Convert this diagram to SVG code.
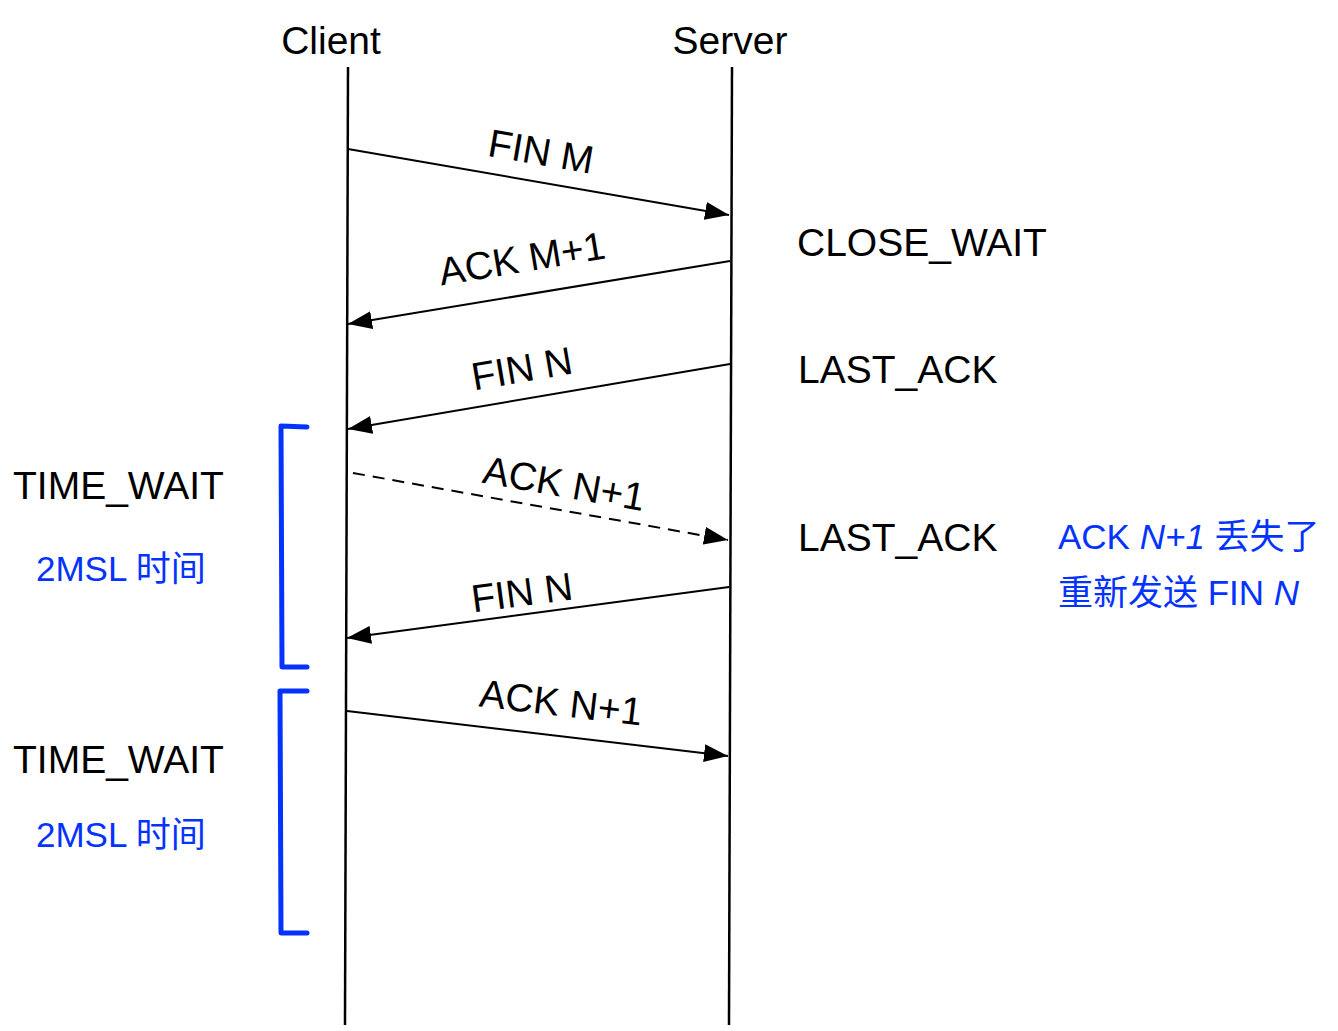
<svg xmlns="http://www.w3.org/2000/svg" width="1338" height="1031" viewBox="0 0 1338 1031">
<defs>
<marker id="ah" viewBox="0 0 24 18" refX="24" refY="9" markerWidth="24" markerHeight="18" markerUnits="userSpaceOnUse" orient="auto">
<path d="M0,0 L24,9 L0,18 Z" fill="#000"/>
</marker>
</defs>
<style>
.t{font-family:"Liberation Sans","Noto Sans CJK SC",Arial,sans-serif;font-size:39px;fill:#000}
.b{font-family:"Liberation Sans","Noto Sans CJK SC",Arial,sans-serif;font-size:35px;fill:#0433ff}
.life{stroke:#000;stroke-width:2.5;fill:none}
.msg{stroke:#000;stroke-width:2;fill:none;marker-end:url(#ah)}
.dash{stroke-dasharray:12,8}
.br{stroke:#0433ff;stroke-width:5;fill:none;stroke-linecap:round;stroke-linejoin:round}
</style>
<rect width="1338" height="1031" fill="#fff"/>
<g id="client">
<text class="t" x="331" y="54" text-anchor="middle">Client</text>
<line class="life" x1="348" y1="67" x2="345" y2="1025"/>
</g>
<g id="server">
<text class="t" x="730" y="54" text-anchor="middle">Server</text>
<line class="life" x1="732" y1="67" x2="729" y2="1025"/>
</g>
<g id="states">
<text class="t" x="797" y="256">CLOSE_WAIT</text>
<text class="t" x="798" y="383">LAST_ACK</text>
<text class="t" x="798" y="551">LAST_ACK</text>
<text class="t" x="13" y="499">TIME_WAIT</text>
<text class="t" x="13" y="773">TIME_WAIT</text>
<text class="b" x="36" y="581">2MSL 时间</text>
<text class="b" x="36" y="847">2MSL 时间</text>
<text class="b" x="1058" y="549">ACK <tspan font-style="italic">N+1</tspan> 丢失了</text>
<text class="b" x="1058" y="605">重新发送 FIN <tspan font-style="italic">N</tspan></text>
</g>
<g id="brackets">
<path class="br" d="M307,427 L281,426 L282,667 L307,667"/>
<path class="br" d="M307,691 L280,691 L281,933 L307,933"/>
</g>
<g id="connectors">
<line class="msg" x1="348" y1="149" x2="729" y2="215"/>
<line class="msg" x1="730" y1="261" x2="348" y2="324"/>
<line class="msg" x1="730" y1="364" x2="348" y2="429"/>
<line class="msg dash" x1="353" y1="473" x2="728" y2="540"/>
<line class="msg" x1="729" y1="587" x2="347" y2="638"/>
<line class="msg" x1="347" y1="711" x2="728" y2="756"/>
</g>
<g id="labels">
<text class="t" text-anchor="middle" transform="translate(541,152) rotate(9.8)" y="13">FIN M</text>
<text class="t" text-anchor="middle" transform="translate(522,259) rotate(-9.4)" y="13">ACK M+1</text>
<text class="t" text-anchor="middle" transform="translate(522,369) rotate(-9.7)" y="13">FIN N</text>
<text class="t" text-anchor="middle" transform="translate(564,484) rotate(10.1)" y="13">ACK N+1</text>
<text class="t" text-anchor="middle" transform="translate(522,593) rotate(-7.6)" y="13">FIN N</text>
<text class="t" text-anchor="middle" transform="translate(561,703) rotate(6.7)" y="13">ACK N+1</text>
</g>
</svg>
